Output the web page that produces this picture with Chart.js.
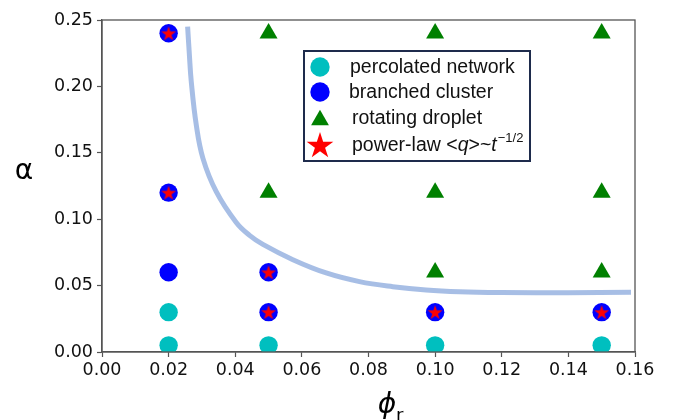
<!DOCTYPE html>
<html>
<head>
<meta charset="utf-8">
<script src="https://cdn.jsdelivr.net/npm/chart.js@4/dist/chart.umd.min.js"></script>
<style>
  html, body { margin: 0; padding: 0; background: #fff; }
</style>
</head>
<body>
<canvas id="phaseChart" width="673" height="420"></canvas>
<script>
// Phase diagram alpha vs phi_r.
var percX = [0.02, 0.02, 0.05, 0.10, 0.15];
var percY = [0.03, 0.005, 0.005, 0.005, 0.005];

var branchX = [0.02, 0.02, 0.02, 0.05, 0.05, 0.10, 0.15];
var branchY = [0.24, 0.12, 0.06, 0.06, 0.03, 0.03, 0.03];

var dropX = [0.05, 0.10, 0.15, 0.05, 0.10, 0.15, 0.10, 0.15];
var dropY = [0.24, 0.24, 0.24, 0.12, 0.12, 0.12, 0.06, 0.06];

var powX = [0.02, 0.02, 0.05, 0.05, 0.10, 0.15];
var powY = [0.24, 0.12, 0.06, 0.03, 0.03, 0.03];

// boundary line
var curveX = [0.0257, 0.0262, 0.0268, 0.0283, 0.0303, 0.0343, 0.0403, 0.0443, 0.0483, 0.0573, 0.0673, 0.0773, 0.0873, 0.0973, 0.1073, 0.12, 0.14, 0.1588];
var curveY = [0.245, 0.225, 0.2035, 0.171, 0.1458, 0.1207, 0.0975, 0.0878, 0.0810, 0.0695, 0.0595, 0.0530, 0.0492, 0.0467, 0.0454, 0.0448, 0.0446, 0.0449];

var xTicks = [0, 0.02, 0.04, 0.06, 0.08, 0.10, 0.12, 0.14, 0.16];
var yTicks = [0, 0.05, 0.10, 0.15, 0.20, 0.25];

var legendLabels = ['percolated network', 'branched cluster', 'rotating droplet'];

var CYAN = '#00bfbf', BLUE = '#0000ff', GREEN = '#008000', RED = '#ff0000';
var AXIS = '#555';

function pts(xs, ys) {
  return xs.map(function (x, i) { return { x: x, y: ys[i] }; });
}

// filled five-point star, used as pointStyle image and in the legend
function starPath(g, cx, cy, R) {
  var r = R * 0.382;
  g.beginPath();
  for (var i = 0; i < 10; i++) {
    var a = -Math.PI / 2 + i * Math.PI / 5;
    var rr = i % 2 ? r : R;
    var px = cx + rr * Math.cos(a), py = cy + rr * Math.sin(a);
    if (i) g.lineTo(px, py); else g.moveTo(px, py);
  }
  g.closePath();
}
function starImage(R, color) {
  var s = Math.ceil(R * 2 + 2);
  var c = document.createElement('canvas');
  c.width = c.height = s;
  var g = c.getContext('2d');
  starPath(g, s / 2, s / 2 + R * 0.1, R);
  g.fillStyle = color;
  g.fill();
  return c;
}

var frame = {
  id: 'frame',
  afterDatasetsDraw: function (chart) {
    var a = chart.chartArea, ctx = chart.ctx;
    ctx.save();
    ctx.strokeStyle = AXIS;
    ctx.lineWidth = 1.3;
    ctx.strokeRect(a.left, a.top, a.right - a.left, a.bottom - a.top);
    ctx.restore();
  }
};

var extras = {
  id: 'extras',
  afterDraw: function (chart) {
    var ctx = chart.ctx;
    ctx.save();

    // axis titles
    ctx.fillStyle = '#000';
    ctx.textAlign = 'center';
    ctx.textBaseline = 'middle';
    ctx.font = '28px "DejaVu Sans"';
    ctx.fillText('α', 24, 172);
    ctx.textBaseline = 'alphabetic';
    ctx.font = 'italic 28px "DejaVu Sans"';
    ctx.fillText('ϕ', 387, 413);
    ctx.textAlign = 'left';
    ctx.font = '18px "DejaVu Sans"';
    ctx.fillText('r', 396, 421);

    // legend box
    var bx = 304, by = 51, bw = 226, bh = 110;
    ctx.fillStyle = '#fff';
    ctx.fillRect(bx, by, bw, bh);
    ctx.strokeStyle = '#1e2b4c';
    ctx.lineWidth = 2;
    ctx.strokeRect(bx, by, bw, bh);

    var mx = 320, tx = 350;
    var rows = [67, 92, 118, 145];
    ctx.fillStyle = CYAN;
    ctx.beginPath(); ctx.arc(mx, rows[0], 9.7, 0, Math.PI * 2); ctx.fill();
    ctx.fillStyle = BLUE;
    ctx.beginPath(); ctx.arc(mx, rows[1], 9.7, 0, Math.PI * 2); ctx.fill();
    ctx.fillStyle = GREEN;
    var R = 10.3, cy = rows[2] + 2;
    ctx.beginPath();
    ctx.moveTo(mx, cy - R);
    ctx.lineTo(mx + R * Math.sin(Math.PI * 2 / 3), cy - R * Math.cos(Math.PI * 2 / 3));
    ctx.lineTo(mx - R * Math.sin(Math.PI * 2 / 3), cy - R * Math.cos(Math.PI * 2 / 3));
    ctx.closePath(); ctx.fill();
    ctx.fillStyle = RED;
    starPath(ctx, mx, rows[3] + 1, 14);
    ctx.fill();

    ctx.fillStyle = '#111';
    ctx.textAlign = 'left';
    ctx.textBaseline = 'middle';
    ctx.font = '19.5px "Liberation Sans", Arial, sans-serif';
    ctx.fillText(legendLabels[0], tx, rows[0] + 1);
    ctx.fillText(legendLabels[1], tx - 1, rows[1] + 1);
    ctx.fillText(legendLabels[2], tx + 2, rows[2] + 1);

    // power-law <q>~t^(-1/2)
    var x = tx + 2, y = rows[3] + 1;
    var parts = [
      ['power-law <', '19.5px', 0],
      ['q', 'italic 19.5px', 0],
      ['>~', '19.5px', 0],
      ['t', 'italic 19.5px', 0],
      ['\u22121/2', '13px', -8]
    ];
    parts.forEach(function (p) {
      ctx.font = p[1] + ' "Liberation Sans", Arial, sans-serif';
      ctx.fillText(p[0], x, y + p[2]);
      x += ctx.measureText(p[0]).width + (p[0] === 't' ? 1 : 0);
    });

    ctx.restore();
  }
};

var tickFont = { family: 'DejaVu Sans', size: 17.5 };

new Chart(document.getElementById('phaseChart'), {
  type: 'scatter',
  data: {
    datasets: [
      {
        label: 'boundary',
        data: pts(curveX, curveY),
        showLine: true,
        borderColor: 'rgba(120,155,215,0.65)',
        borderWidth: 5,
        pointRadius: 0,
        tension: 0.4,
        order: 5
      },
      {
        label: legendLabels[0],
        data: pts(percX, percY),
        pointStyle: 'circle',
        pointRadius: 9.2,
        borderWidth: 0,
        backgroundColor: CYAN,
        order: 4
      },
      {
        label: legendLabels[1],
        data: pts(branchX, branchY),
        pointStyle: 'circle',
        pointRadius: 9.2,
        borderWidth: 0,
        backgroundColor: BLUE,
        order: 3
      },
      {
        label: legendLabels[2],
        data: pts(dropX, dropY),
        pointStyle: 'triangle',
        pointRadius: 10.4,
        borderWidth: 0,
        backgroundColor: GREEN,
        order: 2
      },
      {
        label: 'power-law',
        data: pts(powX, powY),
        pointStyle: starImage(7.8, RED),
        order: 1
      }
    ]
  },
  options: {
    responsive: false,
    animation: false,
    events: [],
    layout: { padding: { top: 20, right: 38, left: 0, bottom: 0 } },
    plugins: { legend: { display: false }, tooltip: { enabled: false } },
    scales: {
      x: {
        type: 'linear',
        min: 0,
        max: 0.16,
        afterBuildTicks: function (s) { s.ticks = xTicks.map(function (v) { return { value: v }; }); },
        afterFit: function (s) { s.height = 68; },
        ticks: { font: tickFont, color: '#111', padding: 3, maxRotation: 0, callback: function (v) { return v.toFixed(2); } },
        grid: { drawOnChartArea: false, tickLength: 5, color: AXIS, tickWidth: 1.2 },
        border: { color: AXIS, width: 1.3 }
      },
      y: {
        type: 'linear',
        min: 0,
        max: 0.25,
        afterBuildTicks: function (s) { s.ticks = yTicks.map(function (v) { return { value: v }; }); },
        afterFit: function (s) { s.width = 102; },
        ticks: { font: tickFont, color: '#111', padding: 4, callback: function (v) { return v.toFixed(2); } },
        grid: { drawOnChartArea: false, tickLength: 5, color: AXIS, tickWidth: 1.2 },
        border: { color: AXIS, width: 1.3 }
      }
    }
  },
  plugins: [frame, extras]
});
</script>
</body>
</html>
